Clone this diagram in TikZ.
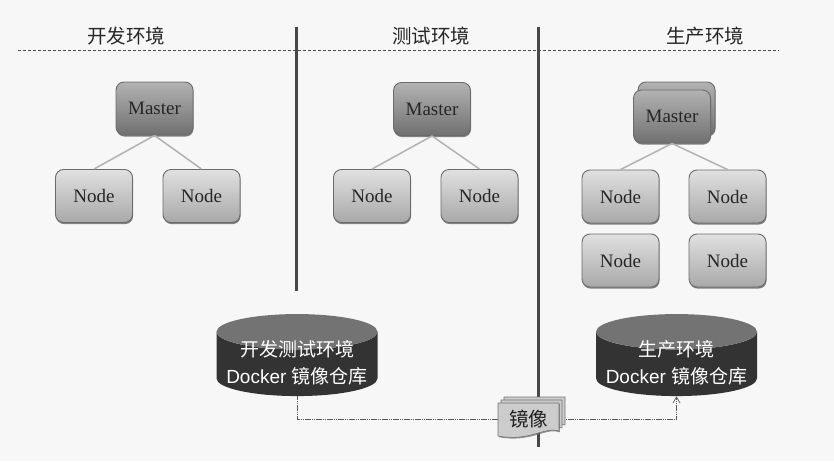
\documentclass[tikz,border=0pt]{standalone}
\usepackage{fontspec}
\setmainfont{Liberation Serif}
\setsansfont{Liberation Sans}
\newfontfamily\cjk{Noto Sans CJK SC}
\usetikzlibrary{shapes.geometric,shadows,arrows.meta}
\newcommand{\repotext}[2]{\raisebox{-4.5pt}[0pt][0pt]{\begin{tabular}{@{}c@{}}{\cjk #1}\\Docker {\cjk #2}\end{tabular}}}
\tikzset{
 box/.style={draw=black!58,line width=0.9pt,rounded corners=8pt,minimum width=77pt,minimum height=53pt,inner sep=0pt,
   font=\fontsize{19}{22}\selectfont,text=black!85,
   drop shadow={shadow xshift=0.6pt,shadow yshift=-1.6pt,fill=black!65,opacity=.75}},
 masterbox/.style={box,top color=black!30,bottom color=black!56},
 nodebox/.style={box,top color=black!12,bottom color=black!34},
 link/.style={draw=black!30,line width=1.5pt},
 title/.style={font=\cjk\fontsize{19.5}{22}\selectfont,text=black!85,inner sep=0pt},
 divider/.style={draw=black!72,line width=3pt},
 repo/.style={cylinder,shape border rotate=90,shape aspect=0.25,minimum width=161pt,minimum height=82pt,inner sep=0pt,
   cylinder uses custom fill,cylinder body fill=black!80,cylinder end fill=black!55,
   text=white,font=\fontsize{19}{27}\selectfont\sffamily},
 flow/.style={draw=black!65,line width=0.7pt,dash pattern=on 1.5pt off 0.7pt},
 sheet/.style={draw=black!55,line width=0.6pt,fill=black!20},
}
\begin{document}
\begin{tikzpicture}[x=1pt,y=-1pt]
\useasboundingbox (0,0) rectangle (834,461);
\fill[black!3] (0,0) rectangle (834,461);
% header rule and dividers
\coordinate (ruleL) at (18,50);
\coordinate (ruleR) at (779,50);
\draw[black!70,line width=0.7pt,densely dashed] (ruleL) -- (ruleR);
\coordinate (divAtop) at (296,27);
\coordinate (divAbot) at (296,291);
\coordinate (divBtop) at (538,27);
\coordinate (divBbot) at (538,447);
\draw[divider] (divAtop) -- (divAbot);
\draw[divider] (divBtop) -- (divBbot);
% titles
\node[title] (t1) at (126,36) {开发环境};
\node[title] (t2) at (431,36) {测试环境};
\node[title] (t3) at (705,36) {生产环境};
% dev
\node[masterbox] (m1) at (154.5,108.5) {Master};
\node[nodebox] (n1a) at (94,196) {Node};
\node[nodebox] (n1b) at (201.5,196) {Node};
% test
\node[masterbox] (m2) at (432,109) {Master};
\node[nodebox] (n2a) at (372,196) {Node};
\node[nodebox] (n2b) at (479.5,196) {Node};
% prod
\node[masterbox] (m3b) at (676.5,108.5) {};
\node[masterbox] (m3) at (672,116.5) {Master};
\node[nodebox] (n3a) at (620.5,196.5) {Node};
\node[nodebox] (n3b) at (727.5,196.5) {Node};
\node[nodebox] (n3c) at (620.5,260.5) {Node};
\node[nodebox] (n3d) at (727.5,260.5) {Node};
% links
\draw[link] (m1.south) -- (n1a.north);
\draw[link] (m1.south) -- (n1b.north);
\draw[link] (m2.south) -- (n2a.north);
\draw[link] (m2.south) -- (n2b.north);
\draw[link] (m3.south) -- (n3a.north);
\draw[link] (m3.south) -- (n3b.north);
% repositories
\node[repo] (r1) at (297,364) {\repotext{开发测试环境}{镜像仓库}};
\node[repo] (r2) at (676.5,364) {\repotext{生产环境}{镜像仓库}};
% flow
\node[inner sep=0pt,minimum width=61pt,minimum height=30pt,font=\cjk\fontsize{19.5}{22}\selectfont,text=black!88] (img) at (528.5,419) {};
\draw[flow] (r1.south) |- (img.west);
\draw[flow,-{Straight Barb[length=6pt,width=7pt]}] (img.east) -| (r2.south);
% image stack
\foreach \d in {6,3}{
  \draw[sheet] (498+\d,403-\d) -- (559+\d,403-\d) -- (559+\d,431-\d)
    .. controls (545+\d,426-\d) and (530+\d,442-\d) .. (498+\d,436-\d) -- cycle;
}
\draw[sheet,drop shadow={shadow xshift=0.8pt,shadow yshift=-1.2pt,fill=black!60,opacity=.7}] (498,403) -- (559,403) -- (559,431)
    .. controls (545,426) and (530,442) .. (498,436) -- cycle;
\node[font=\cjk\fontsize{19.5}{22}\selectfont,text=black!88,inner sep=0pt] (imglabel) at (img.center) {镜像};
\end{tikzpicture}
\end{document}
